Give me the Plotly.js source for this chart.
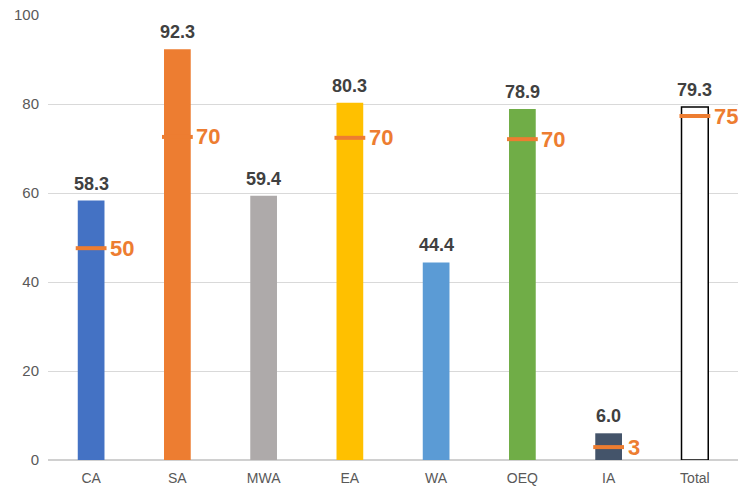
<!DOCTYPE html>
<html>
<head>
<meta charset="utf-8">
<script src="https://cdn.plot.ly/plotly-3.0.1.min.js"></script>
<style>html,body{margin:0;padding:0;background:#fff;}#chart{width:744px;height:488px;}</style>
</head>
<body>
<div id="chart"></div>
<script>
var categories = ["CA", "SA", "MWA", "EA", "WA", "OEQ", "IA", "Total"];
var values = [58.3, 92.3, 59.4, 80.3, 44.4, 78.9, 6.0, 79.3];
var valueLabels = ["58.3", "92.3", "59.4", "80.3", "44.4", "78.9", "6.0", "79.3"];
var barColors = ["#4472C4", "#ED7D31", "#AEAAAA", "#FFC000", "#5B9BD5", "#70AD47", "#44546A", "#FFFFFF"];
var barLineColors = ["#4472C4", "#ED7D31", "#AEAAAA", "#FFC000", "#5B9BD5", "#70AD47", "#44546A", "#000000"];
var barLineWidths = [0, 0, 0, 0, 0, 0, 0, 1.5];

var targetCategories = ["CA", "SA", "EA", "OEQ", "IA", "Total"];
var targetMarks = [47.6, 72.6, 72.4, 72.1, 2.9, 77.3];
var targetLabels = ["50", "70", "70", "70", "3", "75"];

var yTicks = [0, 20, 40, 60, 80, 100];

var traces = [
  {
    type: "bar",
    x: categories,
    y: values,
    marker: { color: barColors, line: { color: barLineColors, width: barLineWidths } },
    hoverinfo: "x+y"
  },
  {
    type: "scatter",
    mode: "markers",
    x: targetCategories,
    y: targetMarks,
    marker: { symbol: "line-ew", size: 22, color: "#ED7D31", line: { color: "#ED7D31", width: 4 } },
    hoverinfo: "x+y"
  }
];

var annotations = [];
categories.forEach(function (c, i) {
  annotations.push({
    x: c, y: values[i], xref: "x", yref: "y",
    text: "<b>" + valueLabels[i] + "</b>",
    showarrow: false, yanchor: "bottom", yshift: 5,
    font: { family: "Liberation Sans, Arial, sans-serif", size: 18, color: "#404040" }
  });
});
targetCategories.forEach(function (c, i) {
  annotations.push({
    x: c, y: targetMarks[i], xref: "x", yref: "y",
    text: "<b>" + targetLabels[i] + "</b>",
    showarrow: false, xanchor: "left", yanchor: "middle", xshift: 17,
    font: { family: "Liberation Sans, Arial, sans-serif", size: 22, color: "#ED7D31" }
  });
});

var layout = {
  width: 744, height: 488,
  margin: { l: 48, r: 6, t: 15, b: 28 },
  paper_bgcolor: "#FFFFFF", plot_bgcolor: "#FFFFFF",
  showlegend: false,
  bargap: 0.69,
  font: { family: "Liberation Sans, Arial, sans-serif", size: 14, color: "#595959" },
  xaxis: {
    type: "category", categoryorder: "array", categoryarray: categories,
    range: [-0.5, categories.length - 0.5], autorange: false,
    showgrid: false, showline: false, zeroline: false, automargin: false,
    tickfont: { size: 14, color: "#595959" }, ticks: "", ticklabelstandoff: 8
  },
  yaxis: {
    range: [0, 100], tickvals: yTicks, ticktext: yTicks.map(String),
    showgrid: true, gridcolor: "#D9D9D9", gridwidth: 1,
    zeroline: true, zerolinecolor: "#D0D0D0", zerolinewidth: 1.5,
    showline: false, ticks: "", ticklabelstandoff: 8, automargin: false,
    tickfont: { size: 15, color: "#595959" }
  },
  annotations: annotations
};

Plotly.newPlot("chart", traces, layout, { displayModeBar: false, staticPlot: true });
</script>
</body>
</html>
